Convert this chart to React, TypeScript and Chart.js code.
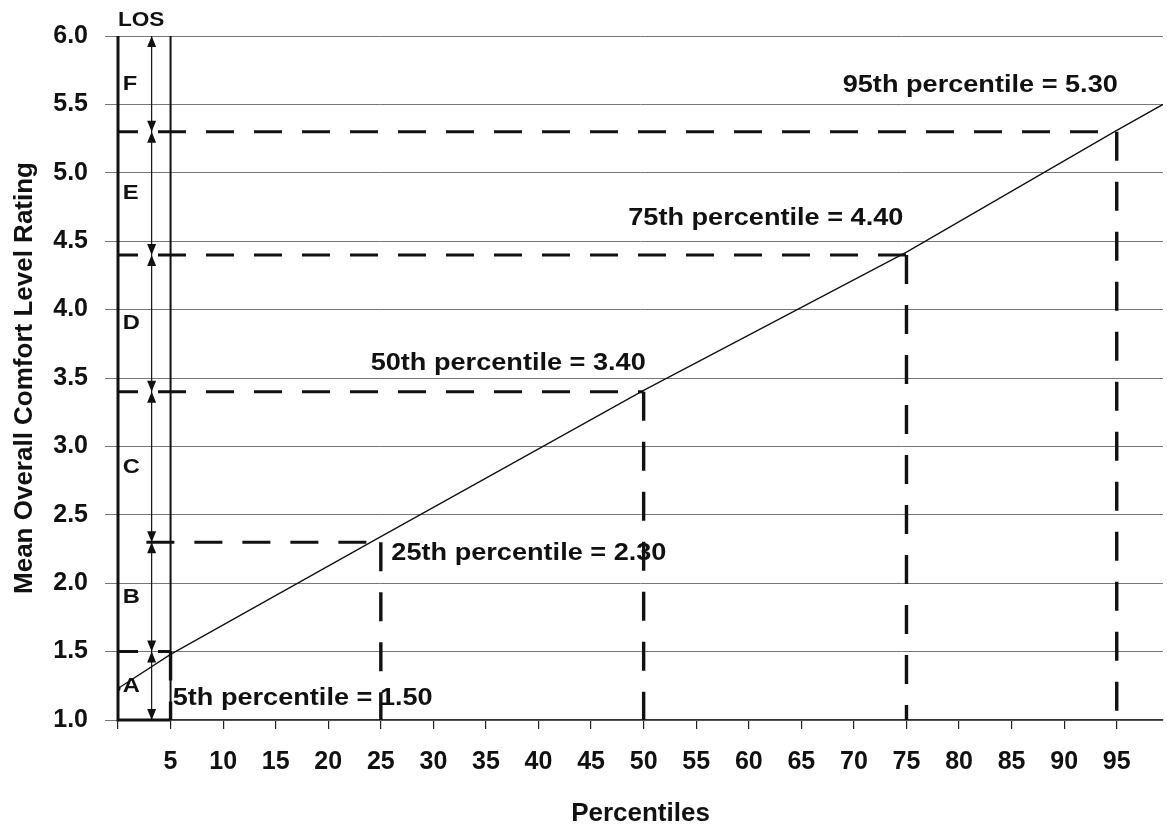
import React, { useEffect, useRef } from 'react';
import { Chart, registerables } from 'chart.js';

Chart.register(...registerables);

// ---- data ----
const percentiles = [0, 5, 25, 50, 75, 95, 99.4];
const comfortRatings = [1.23, 1.48, 2.34, 3.41, 4.42, 5.31, 5.5];

const markerPercentiles = [5, 25, 50, 75, 95];
const markerValues = [1.5, 2.3, 3.4, 4.4, 5.3];
const markerLabels = [
  '5th percentile = 1.50',
  '25th percentile = 2.30',
  '50th percentile = 3.40',
  '75th percentile = 4.40',
  '95th percentile = 5.30',
];

const losBounds = [1.0, 1.5, 2.3, 3.4, 4.4, 5.3, 6.0];
const losGrades = ['A', 'B', 'C', 'D', 'E', 'F'];

const xTickValues = [0, 5, 10, 15, 20, 25, 30, 35, 40, 45, 50, 55, 60, 65, 70, 75, 80, 85, 90, 95];
const yTickValues = [1.0, 1.5, 2.0, 2.5, 3.0, 3.5, 4.0, 4.5, 5.0, 5.5, 6.0];

// ---- layout / style constants ----
const labelAnchors = [
  { x: 5.2, y: 1.16, align: 'left' },
  { x: 26.0, y: 2.22, align: 'left' },
  { x: 50.2, y: 3.61, align: 'right' },
  { x: 74.7, y: 4.67, align: 'right' },
  { x: 95.1, y: 5.64, align: 'right' },
];
const FONT = '"Liberation Sans", Arial, Helvetica, sans-serif';
const STRETCH = 1.13;
const BOX_RIGHT = 5;
const ARROW_X = 3.2;
const GRADE_X = 0.45;
const DASH_START_25 = 2.7;

function drawStretched(ctx: CanvasRenderingContext2D, text: string, x: number, y: number, align: CanvasTextAlign) {
  ctx.save();
  ctx.translate(x, y);
  ctx.scale(STRETCH, 1);
  ctx.textAlign = align;
  ctx.textBaseline = 'middle';
  ctx.fillText(text, 0, 0);
  ctx.restore();
}

const overlayPlugin = {
  id: 'losOverlay',
  beforeDatasetsDraw(chart: any) {
    const { ctx } = chart;
    const xs = chart.scales.x;
    const ys = chart.scales.y;
    const px = (v: number) => xs.getPixelForValue(v);
    const py = (v: number) => ys.getPixelForValue(v);
    ctx.save();

    // annotation texts
    ctx.fillStyle = '#111';
    ctx.font = `bold 24px ${FONT}`;
    markerLabels.forEach((t, i) => {
      const a = labelAnchors[i];
      drawStretched(ctx, t, px(a.x), py(a.y), a.align as CanvasTextAlign);
    });

    // horizontal dashed lines
    ctx.strokeStyle = '#111';
    ctx.lineWidth = 3;
    ctx.lineCap = 'butt';
    ctx.setLineDash([28, 20]);
    markerValues.forEach((v, i) => {
      const start = i === 1 ? DASH_START_25 : 0;
      ctx.lineDashOffset = i === 1 ? 0 : 8;
      ctx.beginPath();
      ctx.moveTo(px(start), py(v));
      ctx.lineTo(px(markerPercentiles[i]), py(v));
      ctx.stroke();
    });

    // vertical dashed lines
    ctx.lineWidth = 3.4;
    ctx.setLineDash([29, 21]);
    ctx.lineDashOffset = 0;
    markerPercentiles.forEach((p, i) => {
      ctx.beginPath();
      ctx.moveTo(px(p), py(markerValues[i]));
      ctx.lineTo(px(p), py(1));
      ctx.stroke();
    });
    ctx.setLineDash([]);

    // LOS box
    ctx.strokeStyle = '#111';
    ctx.lineWidth = 3;
    ctx.beginPath();
    ctx.moveTo(px(0), py(6));
    ctx.lineTo(px(0), py(1));
    ctx.lineTo(px(BOX_RIGHT), py(1));
    ctx.stroke();
    ctx.lineWidth = 2;
    ctx.beginPath();
    ctx.moveTo(px(BOX_RIGHT), py(6));
    ctx.lineTo(px(BOX_RIGHT), py(1));
    ctx.stroke();

    // arrow line
    const ax = px(ARROW_X);
    ctx.lineWidth = 1.2;
    ctx.beginPath();
    ctx.moveTo(ax, py(6));
    ctx.lineTo(ax, py(1));
    ctx.stroke();
    ctx.fillStyle = '#111';
    const head = (tipY: number, dir: number) => {
      ctx.beginPath();
      ctx.moveTo(ax, tipY);
      ctx.lineTo(ax - 4.5, tipY + dir * 11);
      ctx.lineTo(ax + 4.5, tipY + dir * 11);
      ctx.closePath();
      ctx.fill();
    };
    losBounds.forEach((b) => {
      if (b > losBounds[0]) head(py(b), 1); // upward head, tip at b
      if (b < losBounds[losBounds.length - 1]) head(py(b), -1); // downward head, tip at b
    });

    // grade letters
    ctx.font = `bold 21px ${FONT}`;
    losGrades.forEach((g, i) => {
      const mid = (losBounds[i] + losBounds[i + 1]) / 2;
      drawStretched(ctx, g, px(GRADE_X), py(mid), 'left');
    });

    // LOS header
    ctx.font = `bold 20px ${FONT}`;
    drawStretched(ctx, 'LOS', px(2.2), py(6) - 16, 'center');

    ctx.restore();
  },
};

export default function App() {
  const canvasRef = useRef<HTMLCanvasElement | null>(null);

  useEffect(() => {
    if (!canvasRef.current) return;
    const chart = new Chart(canvasRef.current, {
      type: 'line',
      data: {
        datasets: [
          {
            label: 'Mean Overall Comfort Level Rating',
            data: percentiles.map((p, i) => ({ x: p, y: comfortRatings[i] })),
            borderColor: '#111',
            borderWidth: 1.3,
            pointRadius: percentiles.map((_, i) => (i === 0 ? 2.5 : 0)),
            pointBackgroundColor: '#111',
            pointBorderWidth: 0,
            tension: 0,
            fill: false,
          },
        ],
      },
      options: {
        responsive: false,
        animation: false,
        devicePixelRatio: 1,
        layout: { padding: { top: 36, right: 0, bottom: 0, left: 0 } },
        plugins: {
          legend: { display: false },
          tooltip: { enabled: false },
        },
        scales: {
          x: {
            type: 'linear',
            min: 0,
            max: 99.4,
            afterBuildTicks: (s: any) => {
              s.ticks = xTickValues.map((v) => ({ value: v }));
            },
            afterFit: (s: any) => {
              s.height = 109;
            },
            ticks: {
              callback: (v: any) => (Number(v) === 0 ? '' : String(v)),
              font: { size: 25, weight: 'bold', family: FONT },
              color: '#111',
              padding: 18,
              maxRotation: 0,
              autoSkip: false,
            },
            grid: { drawOnChartArea: false, drawTicks: true, tickLength: 9, color: '#222', lineWidth: 1.2 },
            border: { display: true, color: '#333', width: 1.5 },
            title: {
              display: true,
              text: 'Percentiles',
              font: { size: 26, weight: 'bold', family: FONT },
              color: '#111',
              padding: { top: 0, bottom: 0 },
            },
          },
          y: {
            type: 'linear',
            min: 1,
            max: 6,
            afterBuildTicks: (s: any) => {
              s.ticks = yTickValues.map((v) => ({ value: v }));
            },
            afterFit: (s: any) => {
              s.width = 118;
            },
            ticks: {
              callback: (v: any) => Number(v).toFixed(1),
              font: { size: 25, weight: 'bold', family: FONT },
              color: '#111',
              padding: 17,
            },
            grid: { color: '#777', lineWidth: 1, tickLength: 13, drawTicks: true },
            border: { display: false },
            title: {
              display: true,
              text: 'Mean Overall Comfort Level Rating',
              font: { size: 26, weight: 'bold', family: FONT },
              color: '#111',
              padding: { top: 9, bottom: 0 },
            },
          },
        },
      },
      plugins: [overlayPlugin],
    } as any);
    return () => chart.destroy();
  }, []);

  return (
    <canvas
      ref={canvasRef}
      width={1167}
      height={829}
      style={{ position: 'absolute', left: 0, top: 0, width: 1167, height: 829 }}
    />
  );
}
